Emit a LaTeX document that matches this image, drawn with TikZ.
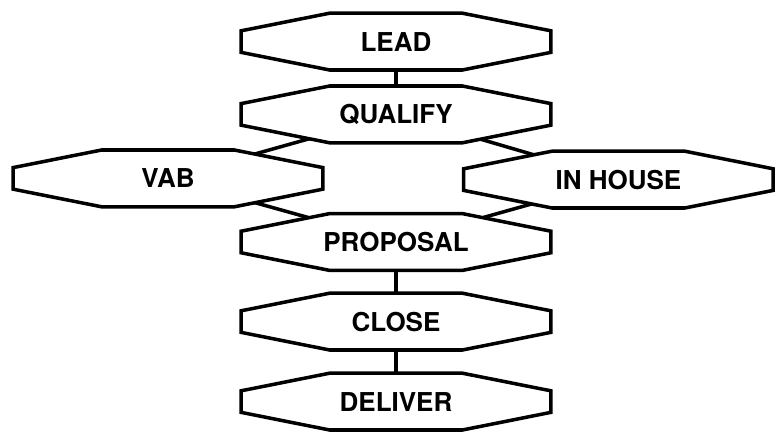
\documentclass[tikz,border=0pt]{standalone}
\usepackage{fontspec}
\setmainfont{TeX Gyre Heros}
\usetikzlibrary{backgrounds}

% one stage: octagon box drawn round a named node
\newcommand{\stage}[3]{%
	\filldraw[stageline] (#2) ++(-1.66,0.71) -- ++(3.32,0) -- ++(2.21,-0.44) -- ++(0,-0.54) -- ++(-2.21,-0.44) -- ++(-3.32,0) -- ++(-2.21,0.44) -- ++(0,0.54) -- cycle;
	\node[stagetext] (#1) at (#2) {#3};}

\begin{document}
\begin{tikzpicture}

	\tikzset{stageline/.style={draw=black, fill=white, line width=2.5pt, line join=miter}}
	\tikzset{stagetext/.style={inner sep=0pt, font=\fontsize{18.5}{22}\selectfont\bfseries}}
	\tikzset{link/.style={line width=2.5pt}}

	\useasboundingbox (0,0) rectangle (19.5,10.85);

	\stage{lead}{9.9,9.81}{LEAD}
	\stage{qualify}{9.9,7.99}{QUALIFY}
	\stage{vab}{4.2,6.39}{VAB}
	\stage{inhouse}{15.46,6.36}{IN HOUSE}
	\stage{proposal}{9.9,4.8}{PROPOSAL}
	\stage{close}{9.9,2.81}{CLOSE}
	\stage{deliver}{9.9,0.81}{DELIVER}

	\begin{scope}[on background layer]
		\draw[link] (lead.center) -- (qualify.center);
		\draw[link] (qualify.center) -- (vab.center);
		\draw[link] (qualify.center) -- (inhouse.center);
		\draw[link] (vab.center) -- (proposal.center);
		\draw[link] (inhouse.center) -- (proposal.center);
		\draw[link] (proposal.center) -- (close.center);
		\draw[link] (close.center) -- (deliver.center);
	\end{scope}

\end{tikzpicture}
\end{document}
